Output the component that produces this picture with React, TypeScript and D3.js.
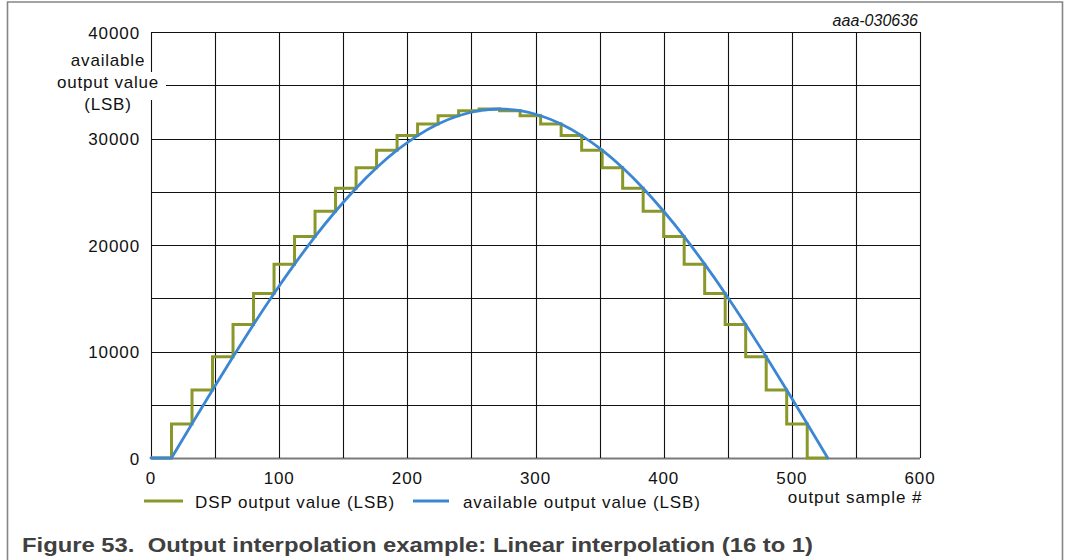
import React from 'react';
import * as d3 from 'd3';

// output sample numbers (every 16 samples)
const sampleNumbers = [0, 16, 32, 48, 64, 80, 96, 112, 128, 144, 160, 176, 192, 208, 224, 240, 256, 272, 288, 304, 320, 336, 352, 368, 384, 400, 416, 432, 448, 464, 480, 496, 512, 528];
// available output value (LSB) read at those samples
const availableValues = [0, 0, 3210, 6390, 9510, 12540, 15450, 18200, 20790, 23170, 25330, 27250, 28900, 30270, 31360, 32140, 32610, 32770, 32610, 32140, 31360, 30270, 28900, 27250, 25330, 23170, 20790, 18200, 15450, 12540, 9510, 6390, 3210, 0];
// DSP output value (LSB): held level ending at each sample
const dspValues = [0, 0, 3200, 6380, 9500, 12540, 15450, 18200, 20790, 23160, 25320, 27250, 28900, 30270, 31360, 32140, 32600, 32770, 32600, 32140, 31360, 30270, 28900, 27250, 25320, 23160, 20790, 18200, 15450, 12540, 9500, 6380, 3200, 0];

const xTickLabels = [0, 100, 200, 300, 400, 500, 600];
const yTickLabels = [0, 10000, 20000, 30000, 40000];
const legendLabels = ['DSP output value (LSB)', 'available output value (LSB)'];

const FONT = '"Liberation Sans", Arial, sans-serif';
const GREEN = '#8a982a';
const BLUE = '#3b87d3';

export default function App() {
  const x = d3.scaleLinear().domain([0, 600]).range([151, 920]);
  const y = d3.scaleLinear().domain([0, 40000]).range([458, 32]);

  const availPts: [number, number][] = sampleNumbers.map((s, i) => [s, availableValues[i]]);
  const dspPts: [number, number][] = sampleNumbers.map((s, i) => [s, dspValues[i]]);

  const straight = d3.line<[number, number]>().x(d => x(d[0])).y(d => y(d[1]));
  const smooth = d3.line<[number, number]>().x(d => x(d[0])).y(d => y(d[1])).curve(d3.curveNatural);
  const steps = d3.line<[number, number]>().x(d => x(d[0])).y(d => y(d[1])).curve(d3.curveStepBefore);

  // flat lead-in (before first non-zero sample) is straight; the arch is smooth
  const startIdx = availableValues.findIndex((v, i) => i > 0 && v > 0) - 1;
  const availPath = (straight(availPts.slice(0, startIdx + 1)) || '') + ' ' + (smooth(availPts.slice(startIdx)) || '');

  const xGrid = x.ticks(12);
  const yGrid = y.ticks(8);

  const tickStyle: React.CSSProperties = { fontFamily: FONT, fontSize: 17, letterSpacing: 0.9 };

  return (
    <svg width={1066} height={560} style={{ position: 'absolute', left: 0, top: 0, background: '#fff' }}>
      {/* frame */}
      <path d="M7.5,560 V2 H1062.5 V560" fill="none" stroke="#858585" strokeWidth={1.6} />

      {/* grid */}
      {yGrid.map(v => (
        <line key={'h' + v} x1={x(0)} x2={x(600)} y1={Math.round(y(v)) + 0.5} y2={Math.round(y(v)) + 0.5}
          stroke={v === 0 ? '#7a7a7a' : '#111'} strokeWidth={v === 0 ? 2 : 1.1} />
      ))}
      {xGrid.map(v => (
        <line key={'v' + v} x1={Math.round(x(v)) + 0.5} x2={Math.round(x(v)) + 0.5} y1={y(40000)} y2={y(0)}
          stroke="#111" strokeWidth={1.1} />
      ))}

      {/* y label with white backing */}
      <rect x={56} y={72} width={110} height={28} fill="#fff" />
      <g style={{ fontFamily: FONT, fontSize: 17, letterSpacing: 0.8 }} textAnchor="middle" fill="#111">
        <text x={108} y={66}>available</text>
        <text x={108} y={88}>output value</text>
        <text x={108} y={110}>(LSB)</text>
      </g>

      {/* y tick labels */}
      {yTickLabels.map(v => (
        <text key={'yt' + v} x={140} y={y(v) + 6.5} textAnchor="end" style={tickStyle} fill="#111">{v}</text>
      ))}
      {/* x tick labels */}
      {xTickLabels.map(v => (
        <text key={'xt' + v} x={x(v)} y={484} textAnchor="middle" style={tickStyle} fill="#111">{v}</text>
      ))}
      <text x={855} y={503} textAnchor="middle" style={tickStyle} fill="#111">output sample #</text>

      {/* series */}
      <path d={steps(dspPts) || ''} fill="none" stroke={GREEN} strokeWidth={3} strokeLinejoin="miter" />
      <path d={availPath} fill="none" stroke={BLUE} strokeWidth={2.8} strokeLinecap="round" strokeLinejoin="round" />

      {/* legend */}
      <line x1={144} x2={183} y1={501} y2={501} stroke={GREEN} strokeWidth={3} />
      <text x={195} y={507.5} style={tickStyle} fill="#111">{legendLabels[0]}</text>
      <line x1={413} x2={449} y1={501} y2={501} stroke={BLUE} strokeWidth={3} />
      <text x={463} y={507.5} style={tickStyle} fill="#111">{legendLabels[1]}</text>

      {/* id */}
      <text x={918} y={25.5} textAnchor="end" style={{ fontFamily: FONT, fontSize: 16, fontStyle: 'italic' }} fill="#111">aaa-030636</text>

      {/* caption */}
      <text x={22} y={551.5} textLength={791} lengthAdjust="spacingAndGlyphs"
        style={{ fontFamily: FONT, fontSize: 21, fontWeight: 'bold', whiteSpace: 'pre' }} fill="#404040">
        {'Figure 53.  Output interpolation example: Linear interpolation (16 to 1)'}
      </text>
    </svg>
  );
}
